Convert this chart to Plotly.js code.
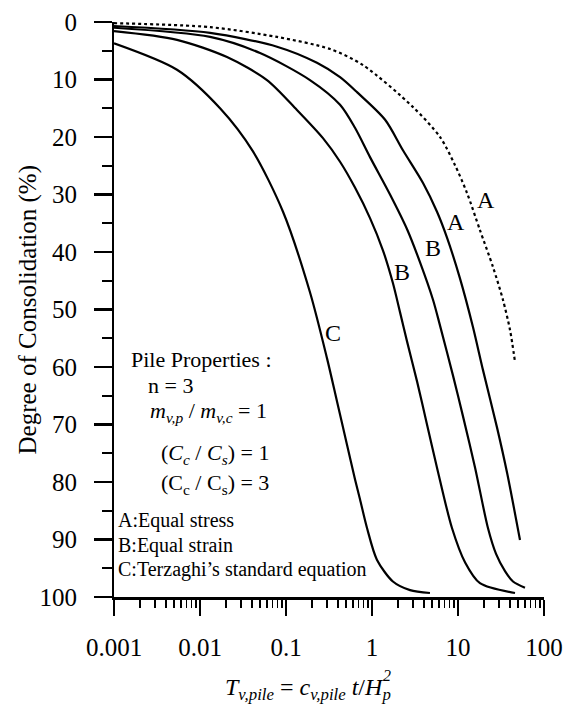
<!DOCTYPE html>
<html><head><meta charset="utf-8">
<script src="https://cdn.plot.ly/plotly-3.0.1.min.js"></script>
<style>html,body{margin:0;padding:0;background:#fff}#chart{width:566px;height:718px}</style>
</head><body><div id="chart"></div>
<script>
// C: Terzaghi's standard equation
const xC = [0.001,0.0054,0.0171,0.0413,0.0923,0.19,0.30,0.392,0.512,0.634,0.725,0.875,1.14,1.75,2.77,4.72];
const yC = [3.7,8.3,15.0,22.5,33.0,47.0,58.5,66.0,73.5,79.5,83.0,88.0,93.5,97.3,98.8,99.3];
// B: Equal strain (inner)
const xB1 = [0.001,0.0054,0.0206,0.0601,0.134,0.269,0.425,0.634,0.948,1.34,1.75,2.12,2.55,3.34,4.36,5.70,8.51,12.1,18.0,46.0];
const yB1 = [1.6,3.1,6.1,10.1,15.3,20.2,24.3,28.8,34.1,39.7,45.4,50.5,55.5,62.5,70.0,77.5,88.0,94.0,97.6,99.3];
// B: Equal strain (outer)
const xB2 = [0.001,0.0131,0.0499,0.190,0.425,0.634,0.948,1.62,2.55,3.62,5.12,6.18,8.75,11.4,15.8,22.3,27.7,35.2,43.6,60.1];
const yB2 = [1.0,2.6,5.4,10.1,14.4,18.4,23.5,30.0,36.0,41.8,48.3,52.8,61.5,68.5,77.5,88.0,92.5,95.5,97.3,98.4];
// A: Equal stress (solid)
const xA1 = [0.001,0.0131,0.0786,0.229,0.425,0.669,1.42,2.29,3.92,5.70,7.45,10.5,14.9,19.5,28.4,37.2,52.6];
const yA1 = [0.7,1.9,4.3,7.1,9.6,12.2,17.0,22.3,28.0,33.0,37.5,44.5,53.0,60.5,70.5,78.4,90.1];
// A: Equal stress (dotted)
const xA2 = [0.001,0.0131,0.0786,0.325,0.786,3.00,6.18,9.23,12.7,18.0,25.5,33.3,40.3,46.0];
const yA2 = [0.2,0.9,2.6,4.7,7.5,14.8,20.0,24.9,29.7,36.2,42.6,48.3,53.6,59.1];

const xTickVals = [0.001,0.01,0.1,1,10,100];
const xTickText = ['0.001','0.01','0.1','1','10','100'];
const yTickVals = [0,10,20,30,40,50,60,70,80,90,100];

const curveLabels = ['A','A','B','B','C'];
const curveLabelX = [21.2,9.48,5.12,2.23,0.352];
const curveLabelY = [31.0,34.8,39.3,43.5,54.1];

const FONT = 'Liberation Serif, Times New Roman, serif';

const minorX = [];
[0.001,0.01,0.1,1,10].forEach(d => { for (let k=2;k<=9;k++) minorX.push(d*k); });

function line(x,y,dash){
  return {x:x,y:y,type:'scatter',mode:'lines',
    line:{color:'#000',width:2.2,dash:dash||'solid',shape:'spline',smoothing:0.8},
    hoverinfo:'skip',showlegend:false};
}
const data = [line(xC,yC), line(xB1,yB1), line(xB2,yB2), line(xA1,yA1), line(xA2,yA2,'dot')];
// anchor trace for the overlaid label axis (draws nothing)
data.push({x:[xC[0]],y:[yC[0]],yaxis:'y2',type:'scatter',mode:'none',hoverinfo:'skip',showlegend:false});

const ann = [];
curveLabels.forEach((t,i)=>ann.push({x:Math.log10(curveLabelX[i]),y:curveLabelY[i],xref:'x',yref:'y',
  text:t,showarrow:false,font:{family:FONT,size:24,color:'#000'}}));

function txt(text,px,py,size,anchor){
  ann.push({xref:'paper',yref:'paper',x:(px-114)/430,y:(597-py)/575,text:text,showarrow:false,
    xanchor:anchor||'left',yanchor:'middle',font:{family:FONT,size:size,color:'#000'}});
}
txt('Pile Properties :',129,359,22);
txt('n = 3',146,385,22);
txt('<i>m</i><sub><i>v,p</i></sub> / <i>m</i><sub><i>v,c</i></sub> = 1',148,412,22);
txt('(<i>C</i><sub><i>c</i></sub> / <i>C</i><sub><i>s</i></sub>) = 1',159,454,22);
txt('(C<sub>c</sub> / C<sub>s</sub>) = 3',159,484,22);
txt('A:Equal stress',116,520,20);
txt('B:Equal strain',116,545,20);
txt('C:Terzaghi’s standard equation',116,569,20);
// x-axis title
txt('<i>T</i><sub><i>v,pile</i></sub> = <i>c</i><sub><i>v,pile</i></sub> <i>t</i>/<i>H</i><sub><i>p</i></sub>',393,689,24,'right');
txt('<i>2</i>',393,675,16,'right');
// y-axis title
ann.push({xref:'paper',yref:'paper',x:(27-114)/430,y:0.5,text:'Degree of Consolidation (%)',textangle:-90,
  showarrow:false,xanchor:'center',yanchor:'middle',font:{family:FONT,size:25,color:'#000'}});

const layout = {
  width:566,height:718,
  margin:{l:114,r:22,t:22,b:121},
  paper_bgcolor:'#fff',plot_bgcolor:'#fff',
  font:{family:FONT,color:'#000'},
  xaxis:{type:'log',range:[-3,2],showgrid:false,zeroline:false,showline:true,linecolor:'#000',linewidth:2.5,
    tickmode:'array',tickvals:xTickVals,ticktext:xTickText,ticks:'outside',ticklen:16,tickwidth:2,tickcolor:'#000',
    tickfont:{family:FONT,size:25,color:'#000'},ticklabelstandoff:10,
    minor:{tickmode:'array',tickvals:minorX,ticks:'outside',ticklen:8,tickwidth:1.5,tickcolor:'#000',showgrid:false}},
  yaxis:{range:[100,0],showgrid:false,zeroline:false,showline:true,linecolor:'#000',linewidth:2.5,
    tickmode:'array',tickvals:yTickVals,ticks:'outside',ticklen:18,tickwidth:2.5,tickcolor:'#000',
    showticklabels:false,
    minor:{dtick:5,ticks:'outside',ticklen:10,tickwidth:2,tickcolor:'#000',showgrid:false}},
  yaxis2:{overlaying:'y',side:'left',range:[100,0],showgrid:false,zeroline:false,showline:false,
    tickmode:'array',tickvals:yTickVals,ticks:'outside',ticklen:31,tickwidth:1,tickcolor:'rgba(0,0,0,0)',
    tickfont:{family:FONT,size:25,color:'#000'}},
  annotations:ann,
  showlegend:false
};
Plotly.newPlot('chart',data,layout,{staticPlot:true,displayModeBar:false});
</script>
</body></html>
